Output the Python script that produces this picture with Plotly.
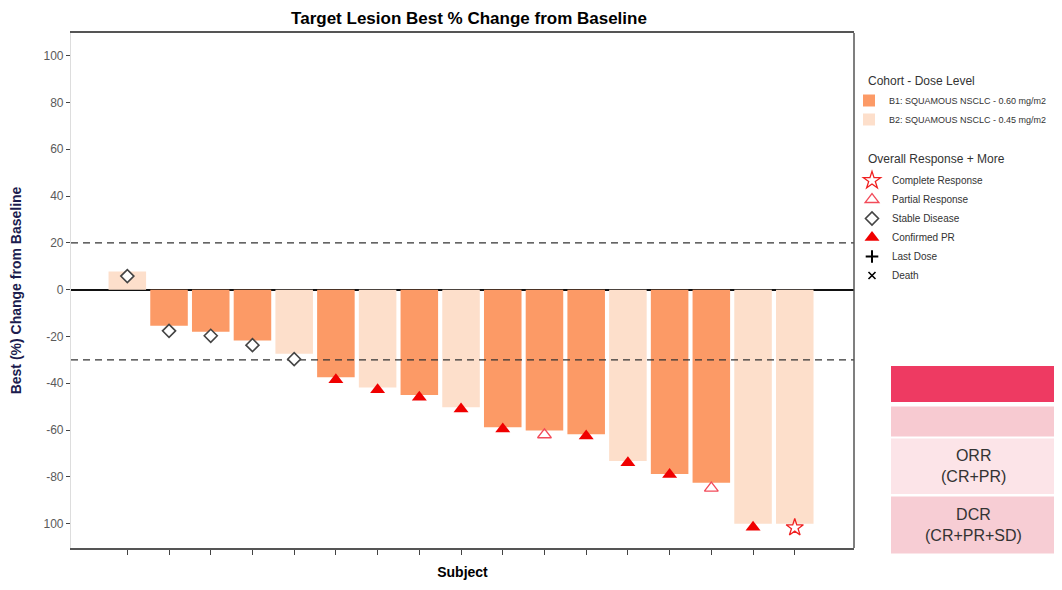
"""Waterfall plot of best % change in target lesions."""

from __future__ import annotations

import plotly.graph_objects as go

FONT = "Liberation Sans, Arial, sans-serif"

subjects = list(range(1, 18))
best_change = [7.8, -15.4, -18.0, -21.7, -27.4, -37.4, -41.8, -45.0, -50.2,
               -58.8, -60.2, -61.8, -73.2, -78.8, -82.5, -100.0, -100.0]
marker_y = [5.8, -17.6, -19.7, -23.7, -29.7, -38.5, -42.8, -46.0, -51.0,
            -59.5, -62.0, -62.5, -74.0, -79.0, -84.8, -101.5, -101.7]
cohort = ["B2", "B1", "B1", "B1", "B2", "B1", "B2", "B1", "B2",
          "B1", "B1", "B1", "B2", "B1", "B1", "B2", "B2"]
response = ["SD", "SD", "SD", "SD", "SD", "CPR", "CPR", "CPR", "CPR",
            "CPR", "PR", "CPR", "CPR", "CPR", "PR", "CPR", "CR"]

cohort_names = {
    "B1": "B1: SQUAMOUS NSCLC - 0.60 mg/m2",
    "B2": "B2: SQUAMOUS NSCLC - 0.45 mg/m2",
}
response_names = ["Complete Response", "Partial Response", "Stable Disease",
                  "Confirmed PR", "Last Dose", "Death"]
response_codes = ["CR", "PR", "SD", "CPR", "LD", "D"]
thresholds = [20, -30]

y_ticks = [100, 80, 60, 40, 20, 0, -20, -40, -60, -80, -100]
y_tick_text = ["100", "80", "60", "40", "20", "0", "-20", "-40", "-60", "-80", "100"]

legend_titles = ["Cohort - Dose Level", "Overall Response + More"]
table_labels = ["", "", "ORR<br>(CR+PR)", "DCR<br>(CR+PR+SD)"]

X_RANGE = [-0.35, 18.42]

COHORT_COLORS = {"B1": "#fc9a66", "B2": "#fddfcb"}
MARKER_STYLE = {
    "CR": dict(symbol="star-open", size=13, color="#f02020", line=dict(width=1.3, color="#f02020")),
    "PR": dict(symbol="triangle-up-open", size=12, color="#f24b5a", line=dict(width=1.3, color="#f24b5a")),
    "SD": dict(symbol="diamond", size=10, color="white", line=dict(width=1.6, color="#444444")),
    "CPR": dict(symbol="triangle-up", size=13, color="#f00000", line=dict(width=0)),
    "LD": dict(symbol="cross-thin-open", size=9, color="black", line=dict(width=2, color="black")),
    "D": dict(symbol="x-thin-open", size=7, color="black", line=dict(width=1.6, color="black")),
}

# the page body has an 8px margin, so figure coords = window coords - 8;
# the figure is sized so the page never gets a scrollbar
OFF = 8
W, H = 1062 - OFF, 590 - 2 * OFF - 2
M_L, M_T = 71 - OFF, 33 - OFF
M_R, M_B = W - (854 - OFF), H - (548 - OFF)
PLOT_W = W - M_L - M_R
PLOT_H = H - M_T - M_B


def px_x(px):
    """window pixel x -> paper x"""
    return (px - OFF - M_L) / PLOT_W


def px_y(py):
    """window pixel y -> paper y"""
    return (H - M_B - (py - OFF)) / PLOT_H


def waterfall_chart() -> go.Figure:
    fig = go.Figure()

    for key, name in cohort_names.items():
        idx = [i for i, c in enumerate(cohort) if c == key]
        fig.add_trace(
            go.Bar(
                x=[subjects[i] for i in idx],
                y=[best_change[i] for i in idx],
                name=name,
                marker_color=COHORT_COLORS[key],
                marker_line_width=0,
                width=0.9,
                legend="legend",
            )
        )

    for level in thresholds:
        fig.add_trace(
            go.Scatter(
                x=X_RANGE,
                y=[level, level],
                mode="lines",
                line=dict(color="#333333", width=1.4, dash="7px,5px"),
                showlegend=False,
                hoverinfo="skip",
            )
        )

    for code, name in zip(response_codes, response_names):
        idx = [i for i, r in enumerate(response) if r == code]
        fig.add_trace(
            go.Scatter(
                x=[subjects[i] for i in idx] or [None],
                y=[marker_y[i] for i in idx] or [None],
                mode="markers",
                name=name,
                marker=MARKER_STYLE[code],
                legend="legend2",
            )
        )

    # right edge of the frame (left edge is the light gray y axis line)
    fig.add_shape(type="line", xref="x domain", yref="y domain",
                  x0=1, x1=1, y0=0, y1=1, line=dict(color="#555555", width=1.5))

    # legend headings
    for text, ty in zip(legend_titles, [81, 159]):
        fig.add_annotation(
            text=text, xref="paper", yref="paper", x=px_x(866), y=px_y(ty),
            xanchor="left", yanchor="middle", showarrow=False,
            font=dict(family=FONT, size=12, color="#333333"),
        )

    # summary table, cut off at the right edge
    row_bounds = [(366, 402), (406.5, 436.5), (438.5, 494), (496.5, 553.5)]
    row_colors = ["#ee3a62", "#f7cad1", "#fce4e8", "#f7cdd4"]
    for (top, bottom), color, label in zip(row_bounds, row_colors, table_labels):
        for x0, x1 in [(891, 1055), (1056.5, 1080)]:
            fig.add_shape(type="rect", xref="paper", yref="paper",
                          x0=px_x(x0), x1=px_x(x1), y0=px_y(bottom), y1=px_y(top),
                          fillcolor=color, line_width=0, layer="above")
        if label:
            fig.add_annotation(
                text=label, xref="paper", yref="paper",
                x=px_x(973), y=px_y((top + bottom) / 2),
                xanchor="center", yanchor="middle",
                showarrow=False, align="center",
                font=dict(family=FONT, size=16, color="#333333"),
            )

    legend_common = dict(
        xref="container", yref="container",
        xanchor="left", yanchor="top",
        itemwidth=30, bgcolor="rgba(0,0,0,0)",
    )

    fig.update_layout(
        width=W,
        height=H,
        autosize=False,
        margin=dict(l=M_L, r=M_R, t=M_T, b=M_B, autoexpand=False),
        plot_bgcolor="white",
        paper_bgcolor="white",
        barmode="overlay",
        font=dict(family=FONT, color="#333333"),
        title=dict(
            text="<b>Target Lesion Best % Change from Baseline</b>",
            x=(469 - OFF) / W, xanchor="center", y=1 - (18 - OFF) / H, yanchor="middle",
            font=dict(family=FONT, size=17, color="black"),
        ),
        legend=dict(x=(849 - OFF) / W, y=1 - (86 - OFF) / H,
                    font=dict(family=FONT, size=9, color="#333333"),
                    **legend_common),
        legend2=dict(x=(852 - OFF) / W, y=1 - (166 - OFF) / H,
                     font=dict(family=FONT, size=10, color="#333333"),
                     **legend_common),
        xaxis=dict(
            range=X_RANGE,
            tickvals=subjects,
            ticktext=[""] * len(subjects),
            ticks="outside", ticklen=5, tickcolor="#444444", tickwidth=1.2,
            showgrid=False, zeroline=False,
            showline=True, linecolor="#555555", linewidth=1.5, mirror=True,
            title=dict(text="<b>Subject</b>", standoff=14,
                       font=dict(family=FONT, size=14, color="black")),
        ),
        yaxis=dict(
            range=[-110.4, 109.7],
            tickvals=y_ticks,
            ticktext=y_tick_text,
            ticks="outside", ticklen=4, tickcolor="#444444", tickwidth=1.2,
            tickfont=dict(family=FONT, size=12, color="#5a5a5a"),
            showgrid=False,
            zeroline=True, zerolinecolor="#111111", zerolinewidth=1.5,
            showline=True, linecolor="#dddddd", linewidth=1.2,
            title=dict(text="<b>Best (%) Change from Baseline</b>", standoff=24,
                       font=dict(family=FONT, size=14, color="#1c1c4e")),
        ),
    )
    return fig


fig = waterfall_chart()
fig.write_html("out.html")
